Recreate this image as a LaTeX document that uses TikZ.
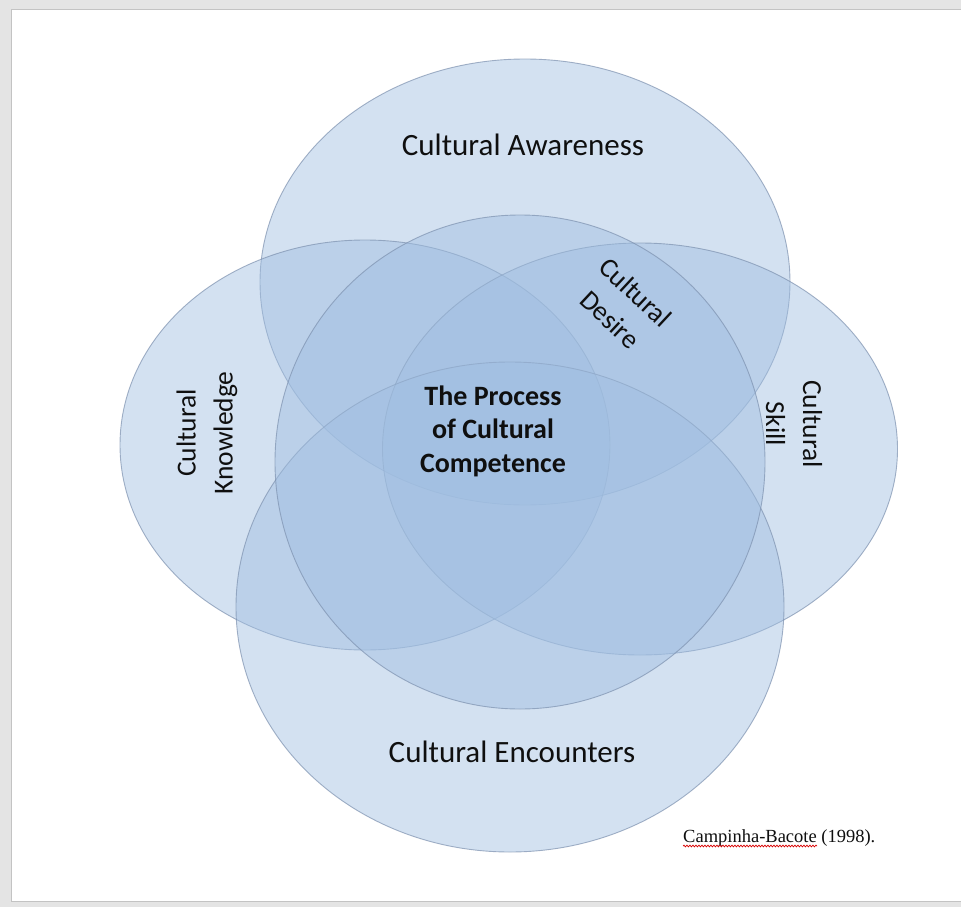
\documentclass[tikz,border=0pt]{standalone}
\usepackage{fontspec}
\setmainfont{Carlito}
\newfontfamily\timesfont{Liberation Serif}
\usetikzlibrary{shapes.geometric,decorations.pathmorphing}
\definecolor{vfill}{RGB}{160,190,225}
\definecolor{vline}{RGB}{125,145,175}
\definecolor{pagegray}{RGB}{228,228,228}
\definecolor{pageedge}{RGB}{195,195,195}
\definecolor{txt}{RGB}{15,15,15}
\tikzset{
  venn/.style={ellipse, inner sep=0pt, outer sep=0pt, fill=vfill, fill opacity=0.46,
    draw=vline, draw opacity=0.7, line width=0.9pt},
  lbl/.style={text=txt, font=\fontsize{31}{37}\selectfont, inner sep=0pt},
  rlbl/.style={text=txt, font=\fontsize{27.5}{37}\selectfont, align=center, inner sep=0pt},
  core/.style={text=txt, font=\bfseries\fontsize{28}{33.5}\selectfont, align=center, inner sep=0pt},
}
\begin{document}
\begin{tikzpicture}[x=1pt,y=-1pt]
\useasboundingbox (0,0) rectangle (961,907);
\fill[pagegray] (0,0) rectangle (961,907);
\filldraw[fill=white, draw=pageedge, line width=1pt] (11,10) rectangle (962,901);
% circles
\node[venn, minimum width=530pt, minimum height=446pt] (aware) at (525,282) {};
\node[venn, minimum width=490pt, minimum height=410pt] (know) at (365,445) {};
\node[venn, minimum width=515pt, minimum height=412pt] (skill) at (640,449) {};
\node[venn, minimum width=548pt, minimum height=490pt] (enc) at (510,607) {};
\node[venn, minimum width=490pt, minimum height=494pt] (desire) at (520,462) {};
% labels
\node[lbl] (tAware) at (523,145) {Cultural Awareness};
\node[lbl] (tEnc) at (512,752) {Cultural Encounters};
\node[rlbl, rotate=90] (tKnow) at (207,433) {Cultural\\Knowledge};
\node[rlbl, rotate=-90] (tSkill) at (794,424) {Cultural\\Skill};
\node[rlbl, rotate=-43] (tDesire) at (623,306) {Cultural\\Desire};
\node[core] (tCore) at (493,431) {The Process\\of Cultural\\Competence};
% citation
\node[anchor=base west, inner sep=0pt, text=txt, font=\timesfont\fontsize{18.5}{22}\selectfont] (cite) at (683,842) {Campinha-Bacote (1998).};
\coordinate (wavyA) at (683,846);
\coordinate (wavyB) at (817,846);
\draw[red!85!black, line width=0.7pt, decorate, decoration={snake, amplitude=0.9pt, segment length=3pt}] (wavyA) -- (wavyB);
\end{tikzpicture}
\end{document}
